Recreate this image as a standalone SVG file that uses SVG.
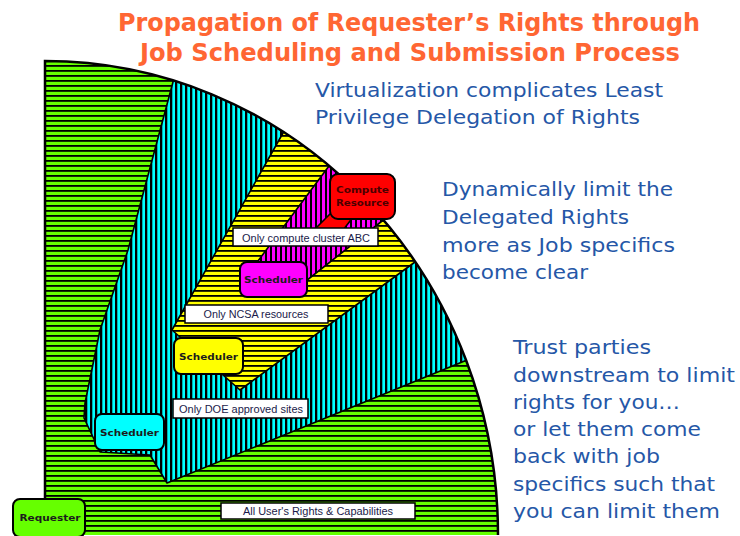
<svg xmlns="http://www.w3.org/2000/svg" width="740" height="536" viewBox="0 0 740 536">
  <style>
    .title { font-family: "DejaVu Sans", Verdana, sans-serif; font-weight: bold; font-size: 24px; fill: #ff6633; text-anchor: middle; }
    .note { font-family: "DejaVu Sans", Verdana, sans-serif; font-size: 20px; fill: #2557a7; }
    .node-box { stroke: #000; stroke-width: 2; }
    .node-text { font-family: "DejaVu Sans", Verdana, sans-serif; font-weight: bold; font-size: 9.5px; fill: #1c1c1c; text-anchor: middle; }
    .label-box { fill: #fff; stroke: #000; stroke-width: 1.5; }
    .label-text { font-family: "Liberation Sans", Arial, sans-serif; font-size: 10px; fill: #1a1a4a; text-anchor: middle; }
    .wedge { stroke: #000; stroke-width: 1.6; stroke-linejoin: round; }
  </style>
  <defs>
    <!-- striped fills for each delegation level -->
    <pattern id="stripe-green" width="8" height="5" patternUnits="userSpaceOnUse">
      <rect width="8" height="5" fill="#66ff00"/>
      <rect width="8" height="1.8" fill="#000"/>
    </pattern>
    <pattern id="stripe-cyan" width="5" height="8" patternUnits="userSpaceOnUse">
      <rect width="5" height="8" fill="#00ffff"/>
      <rect width="2.3" height="8" fill="#000"/>
    </pattern>
    <pattern id="stripe-yellow" width="8" height="5" patternUnits="userSpaceOnUse">
      <rect width="8" height="5" fill="#ffff00"/>
      <rect width="8" height="1.8" fill="#000"/>
    </pattern>
    <pattern id="stripe-magenta" width="5" height="8" patternUnits="userSpaceOnUse">
      <rect width="5" height="8" fill="#ff00ff"/>
      <rect width="2" height="8" fill="#000"/>
    </pattern>
    <clipPath id="quarter">
      <path d="M45,61 A453,474 0 0 1 498,535 L45,535 Z"/>
    </clipPath>
  </defs>

  <rect width="740" height="536" fill="#fff"/>

  <!-- title -->
  <text class="title" x="409" y="31" textLength="582" lengthAdjust="spacingAndGlyphs">Propagation of Requester’s Rights through</text>
  <text class="title" x="410" y="61" textLength="540" lengthAdjust="spacingAndGlyphs">Job Scheduling and Submission Process</text>

  <!-- nested rights fan -->
  <g id="rights-fan">
    <path d="M45,61 A453,474 0 0 1 498,535 L45,535 Z" fill="url(#stripe-green)"/>
    <g clip-path="url(#quarter)">
      <polygon class="wedge" fill="url(#stripe-cyan)" points="176,70 173,82 128,250 100,330 85,403 84,418 100,452 150,455 167,483 467,360 495,349 480,60"/>
      <polygon class="wedge" fill="url(#stripe-yellow)" points="289,123 283,133 172,330 240,390 415,262 430,251 440,110"/>
      <polygon class="wedge" fill="url(#stripe-magenta)" points="341,150 329,166 255,265 250,292 292,292 377,225 410,199 420,150"/>
    </g>
    <path d="M45,535 L45,61 A453,474 0 0 1 498,535" fill="none" stroke="#000" stroke-width="2.5"/>
  </g>

  <!-- pointer from the compute resource down to its restriction -->
  <g id="connectors">
    <polygon class="wedge" fill="#ff0000" stroke-width="1" points="332,212 357,212 340,234 310,234"/>
  </g>

  <!-- restriction labels -->
  <g id="label-cluster">
    <rect class="label-box" x="233" y="228" width="145" height="18"/>
    <text class="label-text" x="306" y="241.5" textLength="128" lengthAdjust="spacingAndGlyphs">Only compute cluster ABC</text>
  </g>
  <g id="label-ncsa">
    <rect class="label-box" x="185" y="305" width="143" height="18"/>
    <text class="label-text" x="256" y="317.5" textLength="105" lengthAdjust="spacingAndGlyphs">Only NCSA resources</text>
  </g>
  <g id="label-doe">
    <rect class="label-box" x="173" y="399" width="135" height="19"/>
    <text class="label-text" x="241" y="412.5" textLength="124" lengthAdjust="spacingAndGlyphs">Only DOE approved sites</text>
  </g>
  <g id="label-all">
    <rect class="label-box" x="221" y="503" width="194" height="16"/>
    <text class="label-text" x="318" y="514.5" textLength="150" lengthAdjust="spacingAndGlyphs">All User's Rights &amp; Capabilities</text>
  </g>

  <!-- nodes -->
  <g id="requester">
    <rect class="node-box" x="13" y="499" width="72" height="38" rx="7" fill="#66ff00"/>
    <text class="node-text" x="50" y="521" textLength="61" lengthAdjust="spacingAndGlyphs">Requester</text>
  </g>
  <g id="scheduler-1">
    <rect class="node-box" x="95" y="414" width="69" height="36" rx="7" fill="#00ffff"/>
    <text class="node-text" x="129.5" y="436" textLength="59" lengthAdjust="spacingAndGlyphs">Scheduler</text>
  </g>
  <g id="scheduler-2">
    <rect class="node-box" x="174" y="338" width="69" height="36" rx="7" fill="#ffff00"/>
    <text class="node-text" x="208.5" y="360" textLength="59" lengthAdjust="spacingAndGlyphs">Scheduler</text>
  </g>
  <g id="scheduler-3">
    <rect class="node-box" x="240" y="262" width="67" height="35" rx="7" fill="#ff00ff"/>
    <text class="node-text" x="273.5" y="283" textLength="59" lengthAdjust="spacingAndGlyphs">Scheduler</text>
  </g>
  <g id="compute-resource">
    <rect class="node-box" x="330" y="174" width="65" height="45" rx="8" fill="#ff0000"/>
    <text class="node-text" x="362.5" y="193" textLength="53" lengthAdjust="spacingAndGlyphs" style="fill:#4a0000">Compute</text>
    <text class="node-text" x="362.5" y="205.5" textLength="53" lengthAdjust="spacingAndGlyphs" style="fill:#4a0000">Resource</text>
  </g>

  <!-- side notes -->
  <g id="notes">
    <text class="note" x="315" y="97" textLength="348" lengthAdjust="spacingAndGlyphs">Virtualization complicates Least</text>
    <text class="note" x="315" y="124" textLength="325" lengthAdjust="spacingAndGlyphs">Privilege Delegation of Rights</text>
    <text class="note" x="442" y="196" textLength="231" lengthAdjust="spacingAndGlyphs">Dynamically limit the</text>
    <text class="note" x="442" y="224" textLength="187" lengthAdjust="spacingAndGlyphs">Delegated Rights</text>
    <text class="note" x="442" y="252" textLength="233" lengthAdjust="spacingAndGlyphs">more as Job specifics</text>
    <text class="note" x="442" y="279" textLength="146" lengthAdjust="spacingAndGlyphs">become clear</text>
    <text class="note" x="513" y="354" textLength="138" lengthAdjust="spacingAndGlyphs">Trust parties</text>
    <text class="note" x="513" y="382" textLength="222" lengthAdjust="spacingAndGlyphs">downstream to limit</text>
    <text class="note" x="513" y="409" textLength="167" lengthAdjust="spacingAndGlyphs">rights for you…</text>
    <text class="note" x="513" y="436" textLength="188" lengthAdjust="spacingAndGlyphs">or let them come</text>
    <text class="note" x="513" y="463" textLength="147" lengthAdjust="spacingAndGlyphs">back with job</text>
    <text class="note" x="513" y="491" textLength="202" lengthAdjust="spacingAndGlyphs">specifics such that</text>
    <text class="note" x="513" y="518" textLength="207" lengthAdjust="spacingAndGlyphs">you can limit them</text>
  </g>
</svg>
